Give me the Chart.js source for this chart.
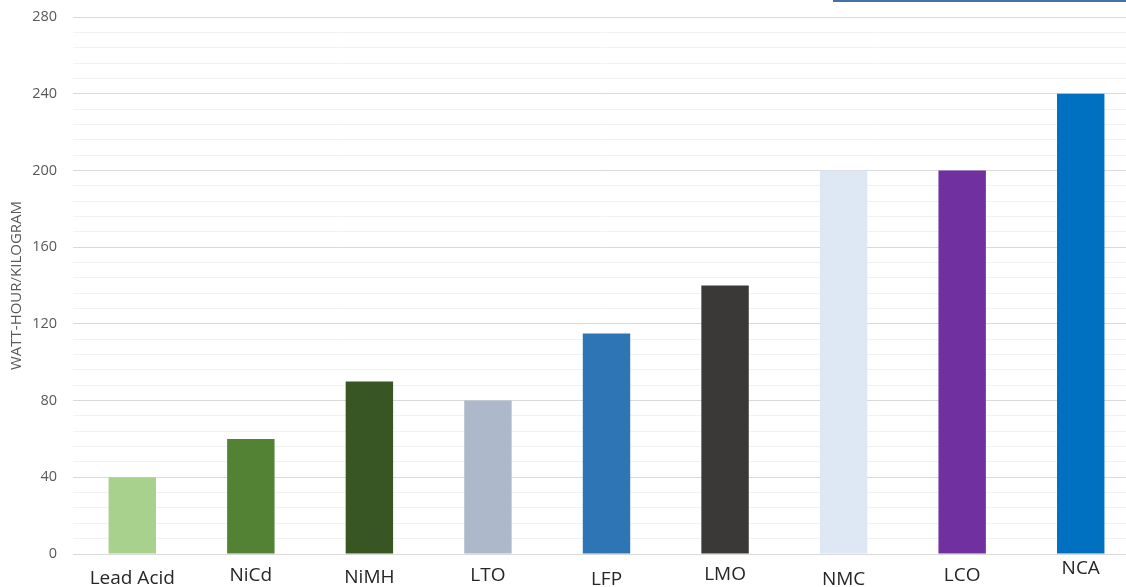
<!DOCTYPE html>
<html>
<head>
<meta charset="utf-8">
<title>Battery chemistry specific energy</title>
<script src="https://cdn.jsdelivr.net/npm/chart.js@4/dist/chart.umd.min.js"></script>
<style>
  html, body { margin: 0; padding: 0; background: #ffffff; overflow: hidden; }
  #wrap { width: 1140px; height: 587px; position: relative; }
</style>
</head>
<body>
<div id="wrap"><canvas id="chart" width="1140" height="587"></canvas></div>
<script>
// Battery chemistries and their specific energy (Wh/kg)
const categories = ['Lead Acid', 'NiCd', 'NiMH', 'LTO', 'LFP', 'LMO', 'NMC', 'LCO', 'NCA'];
const energyWhPerKg = [40, 60, 90, 80, 115, 140, 200, 200, 240];
const yTickLabels = [0, 40, 80, 120, 160, 200, 240, 280];

// One fill colour per chemistry
const barColors = ['#a9d18e', '#548235', '#375623', '#adb9ca', '#2e75b6', '#3b3838', '#dee8f5', '#7030a0', '#0070c0'];
// Vertical nudge of each category label below the axis (px)
const labelDrop = [25, 21.5, 24, 22, 25.5, 20.5, 26, 22, 15];

const FONT = "'Open Sans', 'DejaVu Sans', sans-serif";

const categoryLabels = {
  id: 'categoryLabels',
  afterDraw(chart) {
    const { ctx, scales: { x, y } } = chart;
    const base = y.getPixelForValue(0);
    ctx.save();
    ctx.font = '19px ' + FONT;
    ctx.fillStyle = '#262626';
    ctx.textAlign = 'center';
    ctx.textBaseline = 'middle';
    categories.forEach((name, i) => {
      ctx.fillText(name, x.getPixelForValue(i), base + labelDrop[i]);
    });
    // thin blue rule along the top right edge
    ctx.fillStyle = '#4472a8';
    ctx.fillRect(833, 0, 310, 2);
    ctx.restore();
  }
};

new Chart(document.getElementById('chart'), {
  type: 'bar',
  data: {
    labels: categories,
    datasets: [{
      data: energyWhPerKg,
      backgroundColor: barColors,
      borderWidth: 0,
      barPercentage: 0.4,
      categoryPercentage: 1.0
    }]
  },
  options: {
    responsive: false,
    animation: false,
    layout: { padding: { top: 17, bottom: 33, left: 0, right: 0 } },
    plugins: { legend: { display: false }, tooltip: { enabled: false } },
    scales: {
      x: { display: false },
      y: {
        min: 0,
        max: 280,
        afterFit(scale) {
          scale.width = 73;
          scale.paddingTop = 8;
          scale.paddingBottom = 8;
        },
        border: { display: false },
        grid: {
          drawTicks: false,
          lineWidth: 1,
          color: (c) => (yTickLabels.includes(c.tick.value) ? '#d9d9d9' : '#f2f2f2')
        },
        ticks: {
          stepSize: 8,
          maxTicksLimit: 100,
          autoSkip: false,
          padding: 16,
          color: '#595959',
          font: { family: FONT, size: 14.5 },
          callback: (v) => (yTickLabels.includes(v) ? String(v) : '')
        },
        title: {
          display: true,
          text: 'WATT-HOUR/KILOGRAM',
          color: '#595959',
          font: { family: FONT, size: 15 },
          padding: { top: 8, bottom: 0 }
        }
      }
    }
  },
  plugins: [categoryLabels]
});
</script>
</body>
</html>
